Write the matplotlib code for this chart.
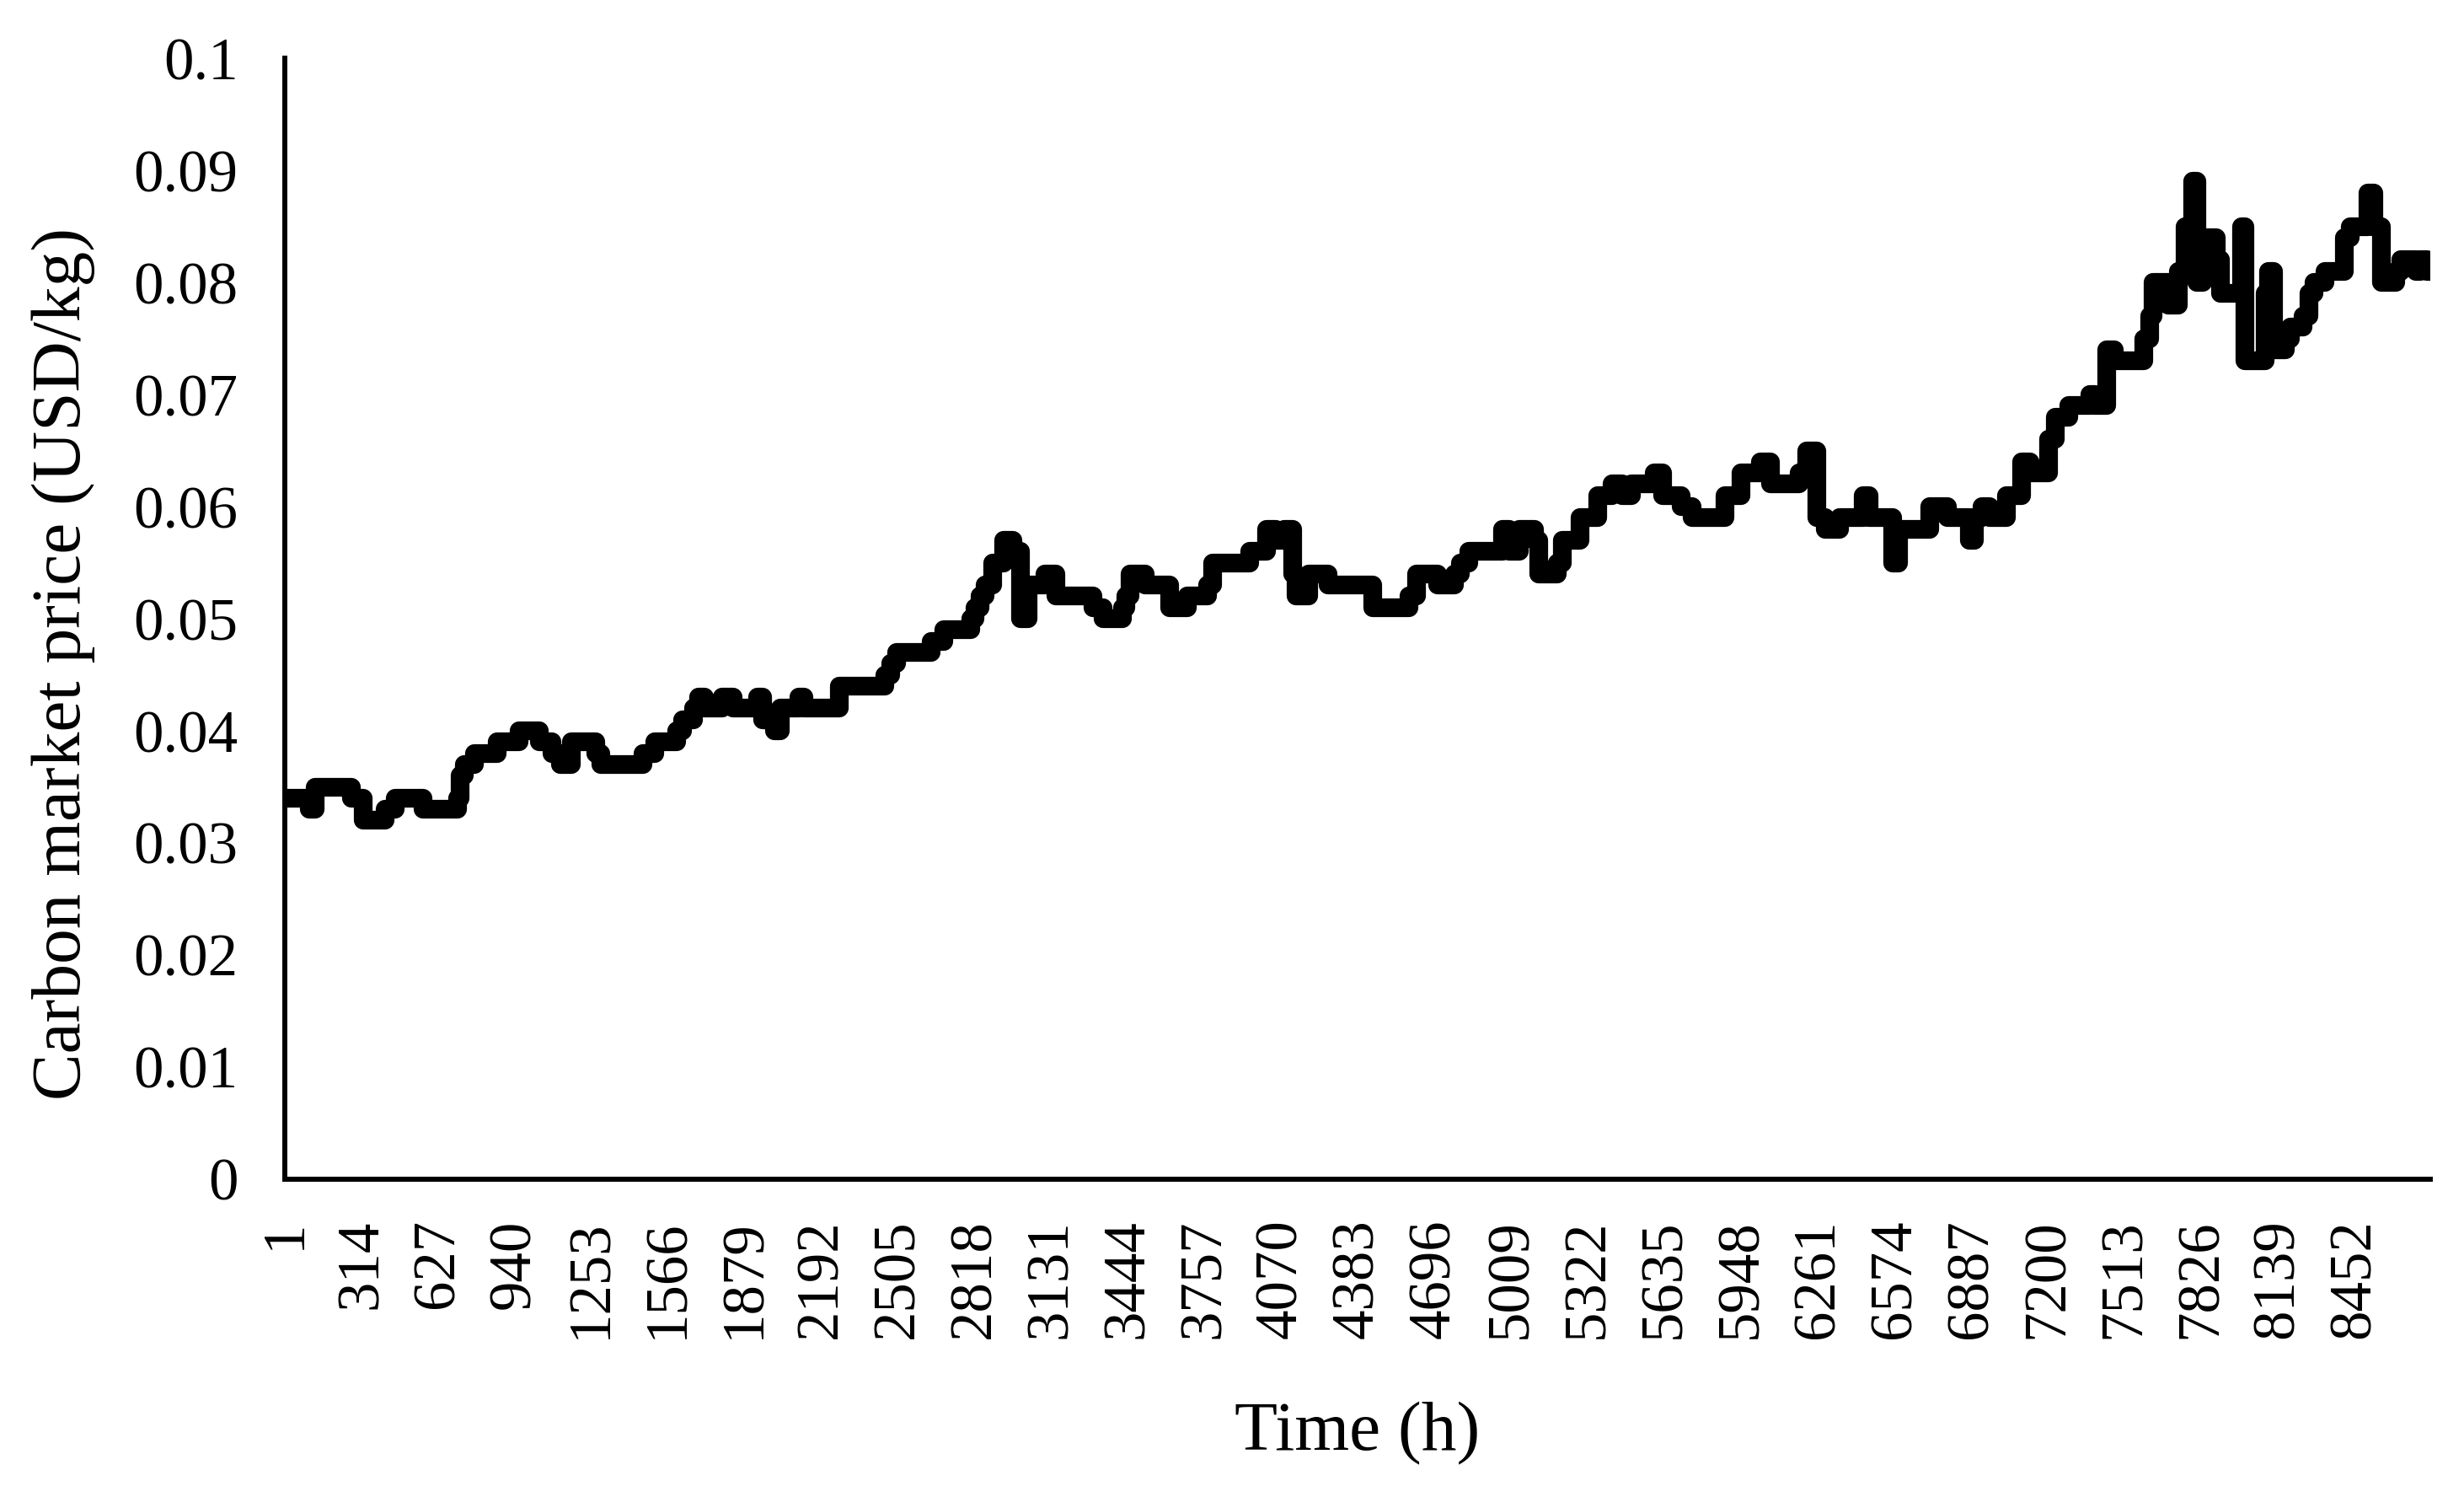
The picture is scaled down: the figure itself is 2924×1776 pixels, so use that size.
"""Hourly carbon market price over one year (step series, Excel-style line)."""
import matplotlib

matplotlib.use("Agg")
import matplotlib.pyplot as plt
import numpy as np

# hour at which the price changes, and the price from that hour on (USD/kg)
change_hour = [
    1, 100, 125, 272, 320, 409, 450, 564, 707, 718, 735, 775, 868, 959,
    1040, 1092, 1125, 1172, 1269, 1290, 1464, 1510, 1601, 1624, 1670,
    1690, 1715, 1785, 1830, 1930, 1950, 2000, 2025, 2100, 2120, 2266,
    2449, 2475, 2500, 2640, 2690, 2800, 2820, 2840, 2860, 2890, 2935,
    2975, 3005, 3034, 3103, 3148, 3300, 3340, 3420, 3435, 3450, 3515,
    3615, 3687, 3767, 3790, 3939, 4008, 4048, 4082, 4117, 4130, 4180,
    4260, 4443, 4592, 4620, 4707, 4776, 4800, 4833, 4971, 5000, 5040,
    5102, 5120, 5195, 5215, 5290, 5360, 5420, 5460, 5500, 5590, 5625,
    5700, 5745, 5880, 5945, 6025, 6065, 6185, 6215, 6255, 6290, 6350,
    6445, 6470, 6565, 6590, 6715, 6790, 6880, 6900, 6930, 6960, 7030,
    7090, 7125, 7200, 7230, 7285, 7370, 7390, 7440, 7470, 7590, 7615,
    7630, 7690, 7730, 7760, 7790, 7808, 7830, 7885, 7905, 7990, 8005,
    8085, 8100, 8120, 8170, 8190, 8240, 8265, 8285, 8330, 8410, 8435,
    8505, 8530, 8560, 8620, 8640, 8700, 8720, 8745,
]
price = [
    0.034, 0.033, 0.035, 0.034, 0.032, 0.033, 0.034, 0.033, 0.034, 0.036,
    0.037, 0.038, 0.039, 0.040, 0.039, 0.038, 0.037, 0.039, 0.038, 0.037,
    0.038, 0.039, 0.040, 0.041, 0.042,
    0.043, 0.042, 0.043, 0.042, 0.043, 0.041, 0.040, 0.042, 0.043, 0.042,
    0.044, 0.045, 0.046, 0.047, 0.048, 0.049, 0.050, 0.051, 0.052, 0.053,
    0.055, 0.057, 0.056, 0.050, 0.053, 0.054, 0.052, 0.051, 0.050, 0.051,
    0.052, 0.054, 0.053, 0.051, 0.052, 0.053, 0.055, 0.056, 0.058, 0.057,
    0.058, 0.054, 0.052, 0.054, 0.053, 0.051, 0.052, 0.054, 0.053, 0.054,
    0.055, 0.056, 0.058, 0.056, 0.058, 0.057, 0.054, 0.055, 0.057, 0.059,
    0.061, 0.062, 0.061, 0.062, 0.063, 0.061, 0.060, 0.059, 0.061, 0.063,
    0.064, 0.062, 0.063, 0.065, 0.059, 0.058, 0.059, 0.061, 0.059, 0.055,
    0.058, 0.060, 0.059, 0.057, 0.059, 0.060, 0.059, 0.061, 0.064, 0.063,
    0.066, 0.068, 0.069, 0.070, 0.069, 0.074, 0.073, 0.075, 0.077, 0.080,
    0.078, 0.081, 0.085, 0.089, 0.080, 0.084, 0.082, 0.079, 0.085, 0.073,
    0.079, 0.081, 0.074, 0.075, 0.076, 0.077, 0.079, 0.080, 0.081, 0.084,
    0.085, 0.088, 0.085, 0.080, 0.081, 0.082, 0.081, 0.082, 0.081,
]
n_hours = 8760
xtick_hours = list(range(1, n_hours, 313))
ytick_values = [0, 0.01, 0.02, 0.03, 0.04, 0.05, 0.06, 0.07, 0.08, 0.09, 0.1]
ytick_labels = ["0", "0.01", "0.02", "0.03", "0.04", "0.05", "0.06", "0.07",
                "0.08", "0.09", "0.1"]


def main() -> None:
    plt.rcParams["font.family"] = ["Liberation Serif", "DejaVu Serif"]

    fig = plt.figure(figsize=(29.24, 17.76), dpi=100)
    ax = fig.add_axes([0.1156, 0.2123, 0.8707, 0.7488])

    hours = np.append(change_hour, n_hours)
    values = np.append(price, price[-1])
    ax.step(hours, values, where="post", color="black", lw=16,
            solid_joinstyle="round", solid_capstyle="round")

    ax.set_xlim(1, n_hours)
    ax.set_ylim(0, 0.1)
    ax.set_xticks(xtick_hours)
    ax.set_xticklabels([str(h) for h in xtick_hours], rotation=90)
    ax.set_yticks(ytick_values)
    ax.set_yticklabels(ytick_labels)
    ax.tick_params(axis="both", length=0, labelsize=51)
    ax.tick_params(axis="x", pad=34)
    ax.tick_params(axis="y", pad=40)

    for side in ("top", "right"):
        ax.spines[side].set_visible(False)
    for side in ("left", "bottom"):
        ax.spines[side].set_linewidth(4.3)
        ax.spines[side].set_color("black")

    ax.set_xlabel("Time (h)", fontsize=60, va="center")
    ax.xaxis.set_label_coords(0.5, -0.227)
    ax.set_ylabel("Carbon market price (USD/kg)", fontsize=60, va="center")
    ax.yaxis.set_label_coords(-0.1033, 0.46)

    fig.savefig("out.png", dpi=100, facecolor="white")
    plt.close(fig)


if __name__ == "__main__":
    main()
